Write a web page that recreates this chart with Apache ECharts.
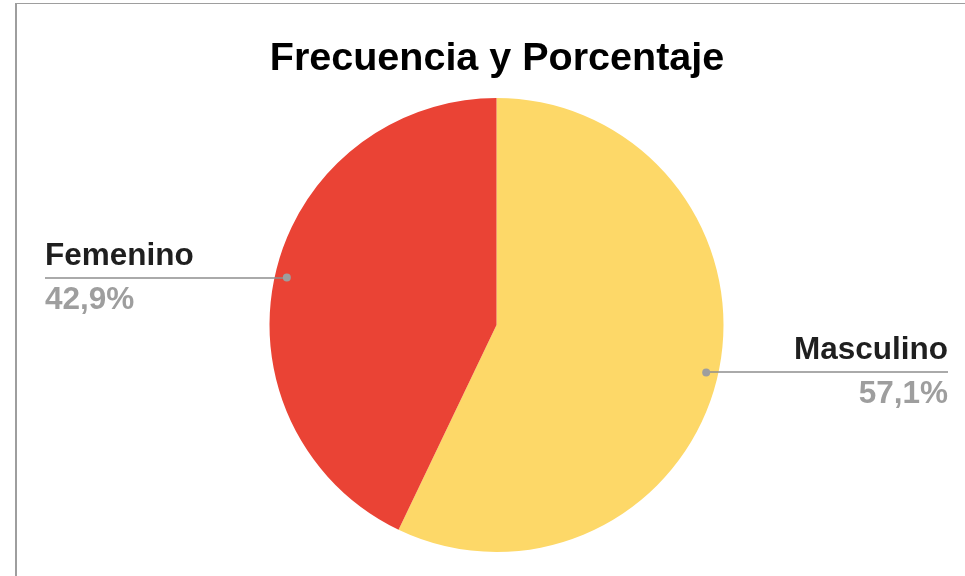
<!DOCTYPE html>
<html>
<head>
<meta charset="utf-8">
<script src="https://cdn.jsdelivr.net/npm/echarts@6/dist/echarts.min.js"></script>
<style>
  html, body { margin: 0; padding: 0; background: #fff; }
  #wrap { position: relative; width: 965px; height: 576px; overflow: hidden; }
  #frame { position: absolute; left: 15px; top: 3px; right: -2px; bottom: -2px;
           border-left: 2px solid #9e9e9e; border-top: 1px solid #9e9e9e; pointer-events: none; }
  #chart { position: absolute; left: 0; top: 0; width: 965px; height: 576px; }
</style>
</head>
<body>
<div id="wrap">
  <div id="chart"></div>
  <div id="frame"></div>
</div>
<script>
var titleText = 'Frecuencia y Porcentaje';
var categories = ['Masculino', 'Femenino'];
var values = [57.1, 42.9];
var colors = ['#FDD868', '#EA4335'];

var FONT = '"Liberation Sans", Arial, sans-serif';
var chart = echarts.init(document.getElementById('chart'), null, { renderer: 'canvas' });

var seriesData = categories.map(function (c, i) {
  return { name: c, value: values[i], itemStyle: { color: colors[i] } };
});
var plainData = categories.map(function (c, i) {
  return { name: c, value: values[i] };
});

function fmtPct(p) {
  return p.toFixed(1).replace('.', ',') + '%';
}

var DOT_INSET = 15;
var LEFT_EDGE = 45;
var RIGHT_PAD = 17;
var CENTER = [496.5, 325];
var R = 227;

chart.setOption({
  backgroundColor: '#ffffff',
  animation: false,
  title: {
    text: titleText,
    left: 492,
    top: 34,
    textAlign: 'center',
    textStyle: { fontFamily: FONT, fontSize: 39.5, fontWeight: 'bold', color: '#000000' }
  },
  series: [
    {
      // coloured slices
      type: 'pie',
      center: CENTER,
      radius: [0, R],
      startAngle: 90,
      clockwise: true,
      data: seriesData,
      z: 2,
      itemStyle: { borderWidth: 0 },
      label: { show: false },
      labelLine: { show: false }
    },
    {
      // labels + leader lines drawn above the slices
      type: 'pie',
      silent: true,
      center: CENTER,
      radius: [0, R],
      startAngle: 90,
      clockwise: true,
      data: plainData,
      z: 5,
      itemStyle: { color: 'rgba(0,0,0,0)', borderWidth: 0 },
      emphasis: { disabled: true },
      label: {
        show: true,
        position: 'outside',
        formatter: function (p) {
          return '{name|' + p.name + '}\n{pct|' + fmtPct(p.percent) + '}';
        },
        rich: {
          name: { fontFamily: FONT, fontSize: 31.5, fontWeight: 'bold', color: '#1f1f1f', lineHeight: 44 },
          pct: { fontFamily: FONT, fontSize: 31.5, fontWeight: 'bold', color: '#9e9e9e', lineHeight: 44 }
        }
      },
      labelLine: {
        show: true,
        length: 20,
        length2: 20,
        lineStyle: { color: '#8e8e8e', width: 1.5 }
      },
      labelLayout: function (params) {
        var pts = params.labelLinePoints;
        if (!pts) return {};
        var dx = pts[1][0] - pts[0][0];
        var dy = pts[1][1] - pts[0][1];
        var len = Math.sqrt(dx * dx + dy * dy) || 1;
        var ux = dx / len, uy = dy / len;
        var px = pts[0][0] - ux * DOT_INSET;
        var py = pts[0][1] - uy * DOT_INSET;
        var isLeft = ux < 0;
        var W = chart.getWidth();
        var ex = isLeft ? LEFT_EDGE : W - RIGHT_PAD;
        return {
          x: ex,
          y: py,
          align: isLeft ? 'left' : 'right',
          verticalAlign: 'middle',
          labelLinePoints: [[px, py], [px, py], [ex, py]]
        };
      }
    },
    {
      // dots at the start of the leader lines
      type: 'pie',
      silent: true,
      center: CENTER,
      radius: [200, 224],
      startAngle: 90,
      clockwise: true,
      data: plainData,
      z: 6,
      itemStyle: { color: 'rgba(0,0,0,0)', borderWidth: 0 },
      emphasis: { disabled: true },
      label: {
        show: true,
        position: 'inside',
        rotate: 0,
        formatter: '{dot| }',
        rich: {
          dot: { width: 8, height: 8, borderRadius: 4, backgroundColor: '#9e9e9e', fontSize: 1, lineHeight: 8 }
        }
      },
      labelLine: { show: false }
    }
  ]
});
</script>
</body>
</html>
